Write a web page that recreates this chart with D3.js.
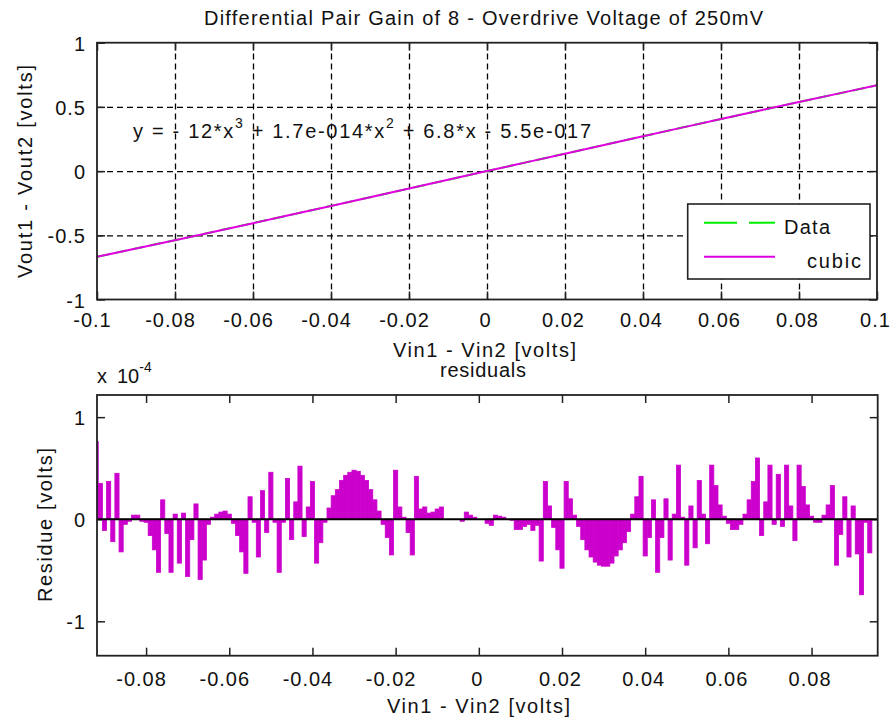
<!DOCTYPE html>
<html><head><meta charset="utf-8">
<script src="https://cdn.jsdelivr.net/npm/d3@7"></script>
<style>
body{margin:0;background:#fff}
svg{display:block}
text{font-family:"Liberation Sans",Arial,sans-serif;fill:#111;font-size:20px}
</style></head><body><svg id="c" width="893" height="724"></svg>
<script>
// ---------- data ----------
const topX = [-0.1,-0.09,-0.08,-0.07,-0.06,-0.05,-0.04,-0.03,-0.02,-0.01,0,0.01,0.02,0.03,0.04,0.05,0.06,0.07,0.08,0.09,0.1];
const dataY = [-0.668,-0.603,-0.538,-0.472,-0.405,-0.339,-0.271,-0.204,-0.136,-0.068,0,0.068,0.136,0.204,0.271,0.339,0.405,0.472,0.538,0.603,0.668];
const cubicY = [-0.6680,-0.6033,-0.5379,-0.4719,-0.4054,-0.3385,-0.2712,-0.2037,-0.1359,-0.0680,0,0.0680,0.1359,0.2037,0.2712,0.3385,0.4054,0.4719,0.5379,0.6033,0.6680];
const topXTicks = [-0.1,-0.08,-0.06,-0.04,-0.02,0,0.02,0.04,0.06,0.08,0.1];
const topYTicks = [-1,-0.5,0,0.5,1];

// residuals (units of 1e-4 volts)
const resX = [-0.092,-0.091,-0.090,-0.089,-0.088,-0.087,-0.086,-0.085,-0.084,-0.083,
-0.082,-0.081,-0.080,-0.079,-0.078,-0.077,-0.076,-0.075,-0.074,-0.073,
-0.072,-0.071,-0.070,-0.069,-0.068,-0.067,-0.066,-0.065,-0.064,-0.063,
-0.062,-0.061,-0.060,-0.059,-0.058,-0.057,-0.056,-0.055,-0.054,-0.053,
-0.052,-0.051,-0.050,-0.049,-0.048,-0.047,-0.046,-0.045,-0.044,-0.043,
-0.042,-0.041,-0.040,-0.039,-0.038,-0.037,-0.036,-0.035,-0.034,-0.033,
-0.032,-0.031,-0.030,-0.029,-0.028,-0.027,-0.026,-0.025,-0.024,-0.023,
-0.022,-0.021,-0.020,-0.019,-0.018,-0.017,-0.016,-0.015,-0.014,-0.013,
-0.012,-0.011,-0.010,-0.009,-0.008,-0.007,-0.006,-0.005,-0.004,-0.003,
-0.002,-0.001,0.000,0.001,0.002,0.003,0.004,0.005,0.006,0.007,
0.008,0.009,0.010,0.011,0.012,0.013,0.014,0.015,0.016,0.017,
0.018,0.019,0.020,0.021,0.022,0.023,0.024,0.025,0.026,0.027,
0.028,0.029,0.030,0.031,0.032,0.033,0.034,0.035,0.036,0.037,
0.038,0.039,0.040,0.041,0.042,0.043,0.044,0.045,0.046,0.047,
0.048,0.049,0.050,0.051,0.052,0.053,0.054,0.055,0.056,0.057,
0.058,0.059,0.060,0.061,0.062,0.063,0.064,0.065,0.066,0.067,
0.068,0.069,0.070,0.071,0.072,0.073,0.074,0.075,0.076,0.077,
0.078,0.079,0.080,0.081,0.082,0.083,0.084,0.085,0.086,0.087,
0.088,0.089,0.090,0.091,0.092,0.093,0.094,0.095];
const resY = [0.76,0.35,-0.11,0.37,-0.22,0.45,-0.32,-0.05,-0.02,0.04,
0.04,-0.02,-0.03,-0.16,-0.30,-0.52,0.19,-0.14,-0.52,0.05,
-0.43,0.06,-0.56,-0.20,0.15,-0.59,-0.40,-0.05,0.02,0.05,
0.07,0.08,0.05,-0.04,-0.16,-0.32,-0.53,0.22,-0.03,-0.37,
0.28,-0.13,0.46,-0.03,-0.52,-0.03,0.40,-0.20,0.17,0.52,
-0.17,0.12,0.37,-0.43,-0.23,-0.03,0.11,0.23,0.29,0.38,
0.43,0.46,0.48,0.47,0.43,0.38,0.29,0.19,0.08,-0.05,
-0.18,-0.35,0.48,0.12,0.02,-0.13,-0.35,0.42,0.10,0.12,
0.06,0.07,0.10,0.12,0,0,0,0,-0.02,0.07,
0.04,0.02,0,0,-0.04,-0.06,0.04,0.03,0.02,0,
-0.01,-0.10,-0.10,-0.07,-0.05,-0.11,-0.06,-0.41,0.37,0.13,
-0.08,-0.30,-0.48,0.37,0.20,0.04,-0.07,-0.20,-0.30,-0.37,
-0.42,-0.45,-0.46,-0.46,-0.43,-0.36,-0.30,-0.23,-0.12,0.05,
0.22,0.42,-0.36,-0.18,0.19,-0.52,-0.18,0.20,-0.40,0.05,
0.53,0.02,-0.45,0.13,-0.28,0.38,0.05,-0.24,0.53,0.33,
0.14,0.03,-0.04,-0.10,-0.10,-0.05,0.05,0.19,0.37,0.60,
-0.16,0.17,0.53,-0.05,0.44,-0.07,0.53,0.13,-0.21,0.53,
0.32,0.14,0.03,-0.03,-0.03,0.04,0.14,0.33,-0.45,-0.15,
0.22,-0.37,0.13,-0.34,-0.74,-0.03,-0.33,0];
const botXTicks = [-0.08,-0.06,-0.04,-0.02,0,0.02,0.04,0.06,0.08];
const botYTicks = [-1,0,1];

// ---------- drawing ----------
const svg = d3.select('#c');
svg.append('rect').attr('width',893).attr('height',724).attr('fill','#fff');
const AX = '#222';

const xT = d3.scaleLinear().domain([-0.1,0.1]).range([97,877]);
const yT = d3.scaleLinear().domain([-1,1]).range([299.5,42.7]);
const xB = d3.scaleLinear().domain([-0.0918,0.0959]).range([97,877.7]);
const yB = d3.scaleLinear().domain([-1.337,1.217]).range([655.7,395]);

function frame(x, y, xt, yt, grid, labPadX) {
  const [x0,x1] = x.range(), [y0,y1] = y.range();
  const W = x1-x0, H = y0-y1;
  if (grid) {
    svg.append('g').attr('transform',`translate(0,${y0})`)
      .call(d3.axisBottom(x).tickValues(xt.slice(1,-1)).tickSize(-H).tickFormat(''))
      .call(g=>g.select('.domain').remove())
      .selectAll('line').attr('stroke','#000').attr('stroke-width',1.3).attr('stroke-dasharray','6,4');
    svg.append('g').attr('transform',`translate(${x0},0)`)
      .call(d3.axisLeft(y).tickValues(yt.slice(1,-1)).tickSize(-W).tickFormat(''))
      .call(g=>g.select('.domain').remove())
      .selectAll('line').attr('stroke','#000').attr('stroke-width',1.3).attr('stroke-dasharray','6,4');
  }
  const tk = (axis, tr) => svg.append('g').attr('transform',tr).call(axis.tickSize(-8).tickFormat(''))
      .call(g=>g.select('.domain').remove())
      .selectAll('line').attr('stroke',AX).attr('stroke-width',1.5);
  tk(d3.axisBottom(x).tickValues(xt), `translate(0,${y0})`);
  tk(d3.axisTop(x).tickValues(xt), `translate(0,${y1})`);
  tk(d3.axisLeft(y).tickValues(yt), `translate(${x0},0)`);
  tk(d3.axisRight(y).tickValues(yt), `translate(${x1},0)`);
  svg.append('g').attr('transform',`translate(0,${y0})`)
    .call(d3.axisBottom(x).tickValues(xt).tickSize(0).tickPadding(labPadX).tickFormat(d=>String(d)))
    .call(g=>g.select('.domain').remove())
    .selectAll('text').attr('dx',d=>d<0?-5:-2).style('letter-spacing','1px');
  svg.append('g').attr('transform',`translate(${x0},0)`)
    .call(d3.axisLeft(y).tickValues(yt).tickSize(0).tickPadding(11).tickFormat(d=>String(d)))
    .call(g=>g.select('.domain').remove())
    .selectAll('text').attr('dy','0.38em').style('letter-spacing','1px');
}

// ===== top plot =====
frame(xT, yT, topXTicks, topYTicks, true, 13.5);
svg.append('clipPath').attr('id','ct').append('rect')
  .attr('x',97).attr('y',42.7).attr('width',780).attr('height',256.8);
const line = d3.line().x(d=>xT(d[0])).y(d=>yT(d[1]));
svg.append('path').datum(topX.map((v,i)=>[v,dataY[i]])).attr('d',line)
  .attr('fill','none').attr('stroke','#00ee00').attr('stroke-width',2).attr('stroke-dasharray','12,6')
  .attr('clip-path','url(#ct)');
svg.append('path').datum(topX.map((v,i)=>[v,cubicY[i]])).attr('d',line)
  .attr('fill','none').attr('stroke','#e000e0').attr('stroke-width',2)
  .attr('clip-path','url(#ct)');
svg.append('rect').attr('x',97).attr('y',42.7).attr('width',780).attr('height',256.8)
  .attr('fill','none').attr('stroke',AX).attr('stroke-width',1.8);

// equation
const eq = svg.append('text').attr('x',133).attr('y',138).attr('textLength',458).attr('lengthAdjust','spacing');
eq.append('tspan').text('y = - 12*x');
eq.append('tspan').attr('dy',-10).style('font-size','14px').text('3');
eq.append('tspan').attr('dy',10).text(' + 1.7e-014*x');
eq.append('tspan').attr('dy',-10).style('font-size','14px').text('2');
eq.append('tspan').attr('dy',10).text(' + 6.8*x - 5.5e-017');

// legend
svg.append('rect').attr('x',687.7).attr('y',204).attr('width',182.3).attr('height',75)
  .attr('fill','#fff').attr('stroke',AX).attr('stroke-width',1.6);
svg.append('line').attr('x1',704).attr('x2',775).attr('y1',222.7).attr('y2',222.7)
  .attr('stroke','#00ee00').attr('stroke-width',2).attr('stroke-dasharray','33,12');
svg.append('line').attr('x1',704).attr('x2',775).attr('y1',256.7).attr('y2',256.7)
  .attr('stroke','#e000e0').attr('stroke-width',2);
svg.append('text').attr('x',784).attr('y',234).attr('textLength',46).attr('lengthAdjust','spacing').text('Data');
svg.append('text').attr('x',807).attr('y',268).attr('textLength',54).attr('lengthAdjust','spacing').text('cubic');

// titles/labels top
svg.append('text').attr('x',204).attr('y',25).attr('textLength',559).attr('lengthAdjust','spacing')
  .text('Differential Pair Gain of 8 - Overdrive Voltage of 250mV');
svg.append('text').attr('transform','translate(31.5,171.5) rotate(-90)').attr('text-anchor','middle')
  .attr('textLength',213).attr('lengthAdjust','spacing').text('Vout1 - Vout2 [volts]');
svg.append('text').attr('x',393).attr('y',357).attr('textLength',183).attr('lengthAdjust','spacing')
  .text('Vin1 - Vin2 [volts]');

// ===== bottom plot =====
svg.append('text').attr('x',440).attr('y',377).attr('textLength',86).attr('lengthAdjust','spacing').text('residuals');
const ex = svg.append('text').attr('x',97).attr('y',383);
ex.append('tspan').text('x');
ex.append('tspan').attr('x',117).text('10');
ex.append('tspan').attr('dy',-11).style('font-size','14px').text('-4');

frame(xB, yB, botXTicks, botYTicks, false, 16);
svg.append('clipPath').attr('id','cb').append('rect')
  .attr('x',97).attr('y',395).attr('width',780.7).attr('height',260.7);
const bw = xB(0.001)-xB(0);
svg.append('g').attr('clip-path','url(#cb)').selectAll('rect').data(resX.map((v,i)=>[v,resY[i]])).join('rect')
  .attr('x',d=>xB(d[0])-bw/2).attr('width',bw)
  .attr('y',d=>Math.min(yB(d[1]),yB(0))).attr('height',d=>Math.abs(yB(d[1])-yB(0)))
  .attr('fill','#cc00cc').attr('stroke','#cc00cc').attr('stroke-width',0.8);
svg.append('line').attr('x1',97).attr('x2',877.7).attr('y1',yB(0)).attr('y2',yB(0))
  .attr('stroke','#000').attr('stroke-width',2);
svg.append('rect').attr('x',97).attr('y',395).attr('width',780.7).attr('height',260.7)
  .attr('fill','none').attr('stroke',AX).attr('stroke-width',1.8);
svg.append('text').attr('transform','translate(51.5,525) rotate(-90)').attr('text-anchor','middle')
  .attr('textLength',154).attr('lengthAdjust','spacing').text('Residue [volts]');
svg.append('text').attr('x',387).attr('y',713).attr('textLength',183).attr('lengthAdjust','spacing')
  .text('Vin1 - Vin2 [volts]');
</script></body></html>
